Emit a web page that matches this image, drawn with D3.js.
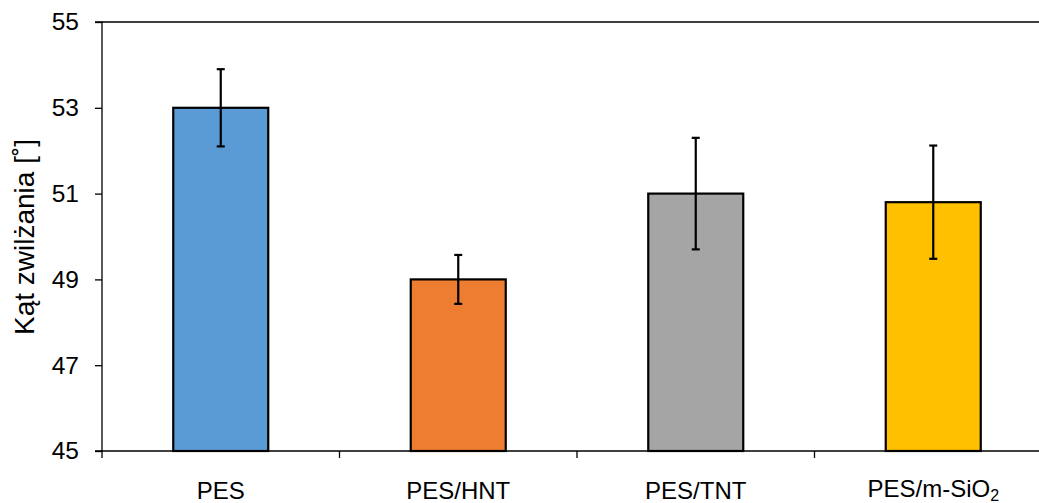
<!DOCTYPE html>
<html><head><meta charset="utf-8">
<script src="https://cdn.jsdelivr.net/npm/d3@7"></script>
<style>body{margin:0;background:#fff}svg{display:block}text{font-family:"Liberation Sans",Arial,sans-serif;fill:#000}</style>
</head><body>
<svg id="c" width="1039" height="503"></svg>
<script>
const categories = ["PES", "PES/HNT", "PES/TNT", "PES/m-SiO2"];
const values = [53.0, 49.0, 51.0, 50.8];
const errors = [0.9, 0.57, 1.3, 1.32];
const colors = ["#5B9BD5", "#ED7D31", "#A5A5A5", "#FFC000"];
const yTicks = [45, 47, 49, 51, 53, 55];
const yLabel = "Kąt zwilżania [˚]";

const svg = d3.select("#c");
const m = {left: 102, top: 22, right: 1052, bottom: 451};
const x = d3.scaleBand().domain(categories).range([m.left, m.right]).paddingInner(0).paddingOuter(0);
const y = d3.scaleLinear().domain([45, 55]).range([m.bottom, m.top]);

// frame top line
svg.append("line").attr("x1", m.left).attr("x2", m.right).attr("y1", y(55)).attr("y2", y(55))
  .attr("stroke", "#000").attr("stroke-width", 1.3);

// y axis
const ya = svg.append("g").attr("transform", `translate(${m.left},0)`)
  .call(d3.axisLeft(y).tickValues(yTicks).tickSize(7).tickPadding(16).tickFormat(d3.format("d")));
ya.select(".domain").attr("stroke", "#000").attr("stroke-width", 1.3).attr("d", `M-7,${y(55)}H0V${y(45)}H-7`);
ya.selectAll(".tick line").attr("stroke", "#000").attr("stroke-width", 1.3);
ya.selectAll(".tick text").attr("font-size", 24.5).attr("font-family", "Liberation Sans, Arial, sans-serif").attr("fill", "#000");

// bars
const bw = x.bandwidth() * 0.4;
svg.selectAll("rect.bar").data(categories).join("rect").attr("class", "bar")
  .attr("x", d => x(d) + x.bandwidth() / 2 - bw / 2)
  .attr("y", (d, i) => y(values[i]))
  .attr("width", bw)
  .attr("height", (d, i) => y(45) - y(values[i]))
  .attr("fill", (d, i) => colors[i])
  .attr("stroke", "#000").attr("stroke-width", 2.2);

// x axis
const xa = svg.append("g").attr("transform", `translate(0,${m.bottom})`);
xa.append("line").attr("x1", m.left).attr("x2", m.right).attr("stroke", "#000").attr("stroke-width", 1.3);
const bounds = d3.range(categories.length + 1).map(i => m.left + i * x.bandwidth());
xa.selectAll("line.tk").data(bounds).join("line").attr("class", "tk")
  .attr("x1", d => d).attr("x2", d => d).attr("y1", 0).attr("y2", 7)
  .attr("stroke", "#000").attr("stroke-width", 1.3);
const lbl = xa.selectAll("text.cat").data(categories).join("text").attr("class", "cat")
  .attr("x", d => x(d) + x.bandwidth() / 2).attr("y", d => d.includes("SiO") ? 46 : 47.5)
  .attr("text-anchor", "middle").attr("font-size", 24);
lbl.each(function(d) {
  const t = d3.select(this);
  const mm = d.match(/^(.*?)(\d)$/);
  if (mm && d.includes("SiO")) {
    t.append("tspan").text(mm[1]);
    t.append("tspan").attr("font-size", 16).attr("dy", 4).text(mm[2]);
  } else t.text(d);
});

// error bars
const eg = svg.append("g").attr("stroke", "#000").attr("stroke-width", 2.2);
categories.forEach((c, i) => {
  const cx = x(c) + x.bandwidth() / 2;
  eg.append("line").attr("x1", cx).attr("x2", cx).attr("y1", y(values[i] + errors[i])).attr("y2", y(values[i] - errors[i]));
  [values[i] + errors[i], values[i] - errors[i]].forEach(v => {
    eg.append("line").attr("x1", cx - 4).attr("x2", cx + 4).attr("y1", y(v)).attr("y2", y(v));
  });
});

// y label
svg.append("text").attr("transform", `translate(34,237) rotate(-90)`)
  .attr("text-anchor", "middle").attr("font-size", 28).text(yLabel);
</script>
</body></html>
